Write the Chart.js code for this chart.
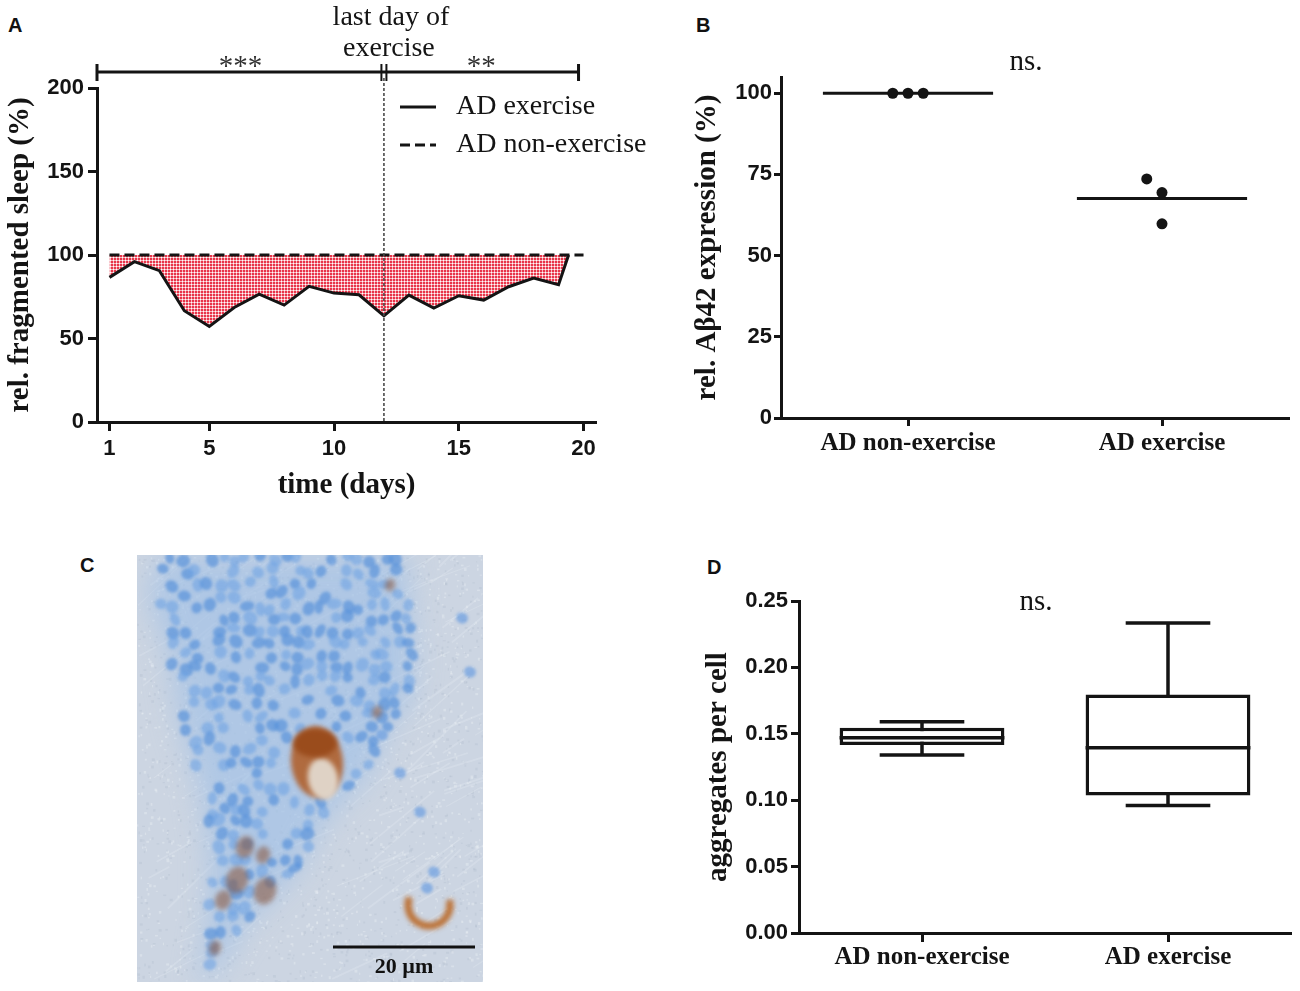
<!DOCTYPE html>
<html>
<head>
<meta charset="utf-8">
<title>Exercise and AD flies</title>
<script src="https://cdn.jsdelivr.net/npm/chart.js@4.4.1/dist/chart.umd.min.js"></script>
<style>
  html, body { margin: 0; padding: 0; background: #fff; }
  body { width: 1300px; height: 991px; position: relative; overflow: hidden; }
  canvas, .letter { position: absolute; }
  .letter { font: bold 20px "Liberation Sans", Arial, sans-serif; color: #111; line-height: 24px; }
</style>
</head>
<body>
<div class="letter" style="left:8px;top:13px">A</div>
<div class="letter" style="left:696px;top:13px">B</div>
<div class="letter" style="left:80px;top:553px">C</div>
<div class="letter" style="left:707px;top:555px">D</div>

<canvas id="chartA" width="650" height="510" style="left:0;top:0"></canvas>
<canvas id="chartB" width="620" height="500" style="left:680px;top:0"></canvas>
<canvas id="photoC" width="346" height="427" style="left:137px;top:555px"></canvas>
<canvas id="chartD" width="620" height="451" style="left:680px;top:540px"></canvas>

<script>
// ---- data -------------------------------------------------------------
// A: relative fragmented sleep per day
const days = [1, 2, 3, 4, 5, 6, 7, 8, 9, 10, 11, 12, 13, 14, 15, 16, 17, 18, 19, 19.4];
const sleepExercise = [86.6, 96, 90.6, 66.6, 57.2, 68.6, 76.6, 70, 81.2, 77.2, 76.2, 63.6, 76, 68.2, 75.6, 73, 81, 86.2, 82.2, 100];
const baselineDays = [1, 20];
const sleepNonExercise = [100, 100];
const dayTicks = [1, 5, 10, 15, 20];
const sleepTicks = [0, 50, 100, 150, 200];
const lastExerciseDay = 12;
const bracketEndDay = 19.8;

// B: rel. Abeta42 expression, single values per group
const groups = ['AD non-exercise', 'AD exercise'];
const abNonExercise = [100, 100, 100];
const abExercise = [73.6, 69.4, 59.8];
const abTicks = [0, 25, 50, 75, 100];

// D: aggregates per cell, box plot summary per group
const aggMin = [0.134, 0.096];
const aggQ1 = [0.1415, 0.1035];
const aggMedian = [0.147, 0.1395];
const aggQ3 = [0.1545, 0.1795];
const aggMax = [0.159, 0.2335];
const aggTicks = [0, 0.05, 0.10, 0.15, 0.20, 0.25];

// ---- shared style -------------------------------------------------------
const ink = '#141414';
const tickFont = { family: 'Liberation Sans', size: 22, weight: 'bold' };
const serifBold = { family: 'Liberation Serif', size: 29, weight: 'bold' };
const catFont = { family: 'Liberation Serif', size: 25, weight: 'bold' };
const serifText = '28px "Liberation Serif"';

function fixedTicks(values) {
    return scale => { scale.ticks = values.map(v => ({ value: v })); };
}

function dotPattern() {
    const tile = document.createElement('canvas');
    tile.width = 3;
    tile.height = 3;
    const c = tile.getContext('2d');
    c.fillStyle = '#f7b6bd';
    c.fillRect(0, 0, 3, 3);
    c.fillStyle = '#e8354a';
    c.fillRect(0, 0, 2, 2);
    c.fillStyle = '#ffffff';
    c.fillRect(2, 2, 1, 1);
    return c.createPattern(tile, 'repeat');
}

// column scatter: equal/close values are pushed sideways, smallest first
function spreadDots(values, center, yTol, step) {
    const placed = [];
    return values.slice().sort((a, b) => a - b).map(v => {
        const k = [0, -1, 1, -2, 2].find(t => !placed.some(p => p.k === t && Math.abs(p.v - v) < yTol));
        placed.push({ v, k });
        return { x: center + k * step, y: v };
    });
}

function mean(arr) {
    return arr.reduce((a, b) => a + b, 0) / arr.length;
}

const noChrome = { legend: { display: false }, tooltip: { enabled: false } };

// ---- A ---------------------------------------------------------------------
const panelAExtras = {
    id: 'panelAExtras',
    afterDatasetsDraw(chart) {
        const { ctx, chartArea, scales: { x } } = chart;
        const xm = x.getPixelForValue(lastExerciseDay);
        ctx.save();
        ctx.strokeStyle = '#4a4a4a';
        ctx.lineWidth = 1.6;
        ctx.setLineDash([3, 2]);
        ctx.beginPath();
        ctx.moveTo(xm, chartArea.top - 10);
        ctx.lineTo(xm, chartArea.bottom);
        ctx.stroke();
        ctx.restore();
    },
    afterDraw(chart) {
        const { ctx, chartArea, scales: { x } } = chart;
        const by = chartArea.top - 16;
        const x0 = chartArea.left;
        const xm = x.getPixelForValue(lastExerciseDay);
        const x1 = x.getPixelForValue(bracketEndDay);
        ctx.save();
        ctx.strokeStyle = ink;
        ctx.lineWidth = 3;
        ctx.beginPath();
        ctx.moveTo(x0, by);
        ctx.lineTo(x1, by);
        [x0, x1].forEach(px => { ctx.moveTo(px, by - 8); ctx.lineTo(px, by + 9); });
        ctx.stroke();
        ctx.lineWidth = 2;
        ctx.beginPath();
        [xm - 2.5, xm + 2.5].forEach(px => { ctx.moveTo(px, by - 8); ctx.lineTo(px, by + 9); });
        ctx.stroke();

        ctx.fillStyle = '#333';
        ctx.textAlign = 'center';
        ctx.textBaseline = 'middle';
        ctx.font = '29px "Liberation Serif"';
        ctx.fillText('***', (x0 + xm) / 2, by - 5);
        ctx.fillText('**', (xm + x1) / 2, by - 5);

        ctx.fillStyle = ink;
        ctx.font = serifText;
        ctx.fillText('last day of', xm + 7, 18);
        ctx.fillText('exercise', xm + 5, 49);

        // legend
        const ds = chart.data.datasets;
        [[ds[0], 107], [ds[1], 145]].forEach(([d, ly]) => {
            ctx.strokeStyle = d.borderColor;
            ctx.lineWidth = d.borderWidth;
            ctx.setLineDash(d.borderDash || []);
            ctx.beginPath();
            ctx.moveTo(400, ly);
            ctx.lineTo(436, ly);
            ctx.stroke();
            ctx.setLineDash([]);
            ctx.textAlign = 'left';
            ctx.fillText(d.label, 456, ly);
        });
        ctx.restore();
    }
};

new Chart(document.getElementById('chartA'), {
    type: 'line',
    data: {
        datasets: [
            {
                label: 'AD exercise',
                data: days.map((d, i) => ({ x: d, y: sleepExercise[i] })),
                borderColor: ink,
                borderWidth: 3,
                pointRadius: 0,
                tension: 0,
                fill: { value: 100 },
                backgroundColor: dotPattern(),
                order: 1
            },
            {
                label: 'AD non-exercise',
                data: baselineDays.map((d, i) => ({ x: d, y: sleepNonExercise[i] })),
                borderColor: ink,
                borderWidth: 3,
                borderDash: [10, 5],
                pointRadius: 0,
                fill: false,
                order: 0
            }
        ]
    },
    options: {
        responsive: false,
        animation: false,
        layout: { padding: { top: 88, right: 54, left: 0, bottom: 0 } },
        plugins: noChrome,
        scales: {
            x: {
                type: 'linear',
                min: 0.5,
                max: 20.5,
                afterBuildTicks: fixedTicks(dayTicks),
                afterFit: s => { s.height = 88; },
                border: { color: ink, width: 3 },
                grid: { drawOnChartArea: false, tickLength: 9, tickWidth: 3, tickColor: ink },
                ticks: { font: tickFont, color: ink, padding: 5, autoSkip: false, maxRotation: 0 },
                title: { display: true, text: 'time (days)', font: serifBold, color: ink, padding: { top: 0, bottom: 7 } }
            },
            y: {
                min: 0,
                max: 200,
                afterBuildTicks: fixedTicks(sleepTicks),
                afterFit: s => { s.width = 97; },
                border: { color: ink, width: 3 },
                grid: { drawOnChartArea: false, tickLength: 9, tickWidth: 3, tickColor: ink },
                ticks: { font: tickFont, color: ink, padding: 4, autoSkip: false },
                title: { display: true, text: 'rel. fragmented sleep (%)', font: serifBold, color: ink, padding: { top: 3, bottom: 0 } }
            }
        }
    },
    plugins: [panelAExtras]
});

// ---- B and D helpers ---------------------------------------------------------
function nsLabel(id, yPx) {
    return {
        id: id,
        afterDraw(chart) {
            const { ctx, scales: { x } } = chart;
            ctx.save();
            ctx.fillStyle = ink;
            ctx.font = '29px "Liberation Serif"';
            ctx.textAlign = 'center';
            ctx.textBaseline = 'middle';
            ctx.fillText('ns.', x.getPixelForValue(1) - 9, yPx);
            ctx.restore();
        }
    };
}

function groupAxis(height, tickLength, padding) {
    return {
        type: 'linear',
        min: 0,
        max: groups.length,
        offset: false,
        afterBuildTicks: fixedTicks(groups.map((g, i) => i + 0.5)),
        afterFit: s => { s.height = height; },
        border: { color: ink, width: 3 },
        grid: { drawOnChartArea: false, offset: false, tickLength: tickLength, tickWidth: 3, tickColor: ink },
        ticks: { font: catFont, color: ink, padding: padding, autoSkip: false, maxRotation: 0,
                 callback: (v, i) => groups[i] }
    };
}

// ---- B ---------------------------------------------------------------------
const halfWidth = 0.335;
const abMeans = [mean(abNonExercise), mean(abExercise)];
const meanSegments = [];
abMeans.forEach((m, i) => {
    meanSegments.push({ x: i + 0.5 - halfWidth, y: m }, { x: i + 0.5 + halfWidth, y: m }, { x: i + 0.5, y: null });
});

new Chart(document.getElementById('chartB'), {
    type: 'scatter',
    data: {
        datasets: [
            { data: spreadDots(abNonExercise, 0.5, 5, 0.06), pointRadius: 5.5, pointBackgroundColor: ink, pointBorderWidth: 0 },
            { data: spreadDots(abExercise, 1.5, 5, 0.06), pointRadius: 5.5, pointBackgroundColor: ink, pointBorderWidth: 0 },
            { data: meanSegments, showLine: true, spanGaps: false, borderColor: ink, borderWidth: 3, pointRadius: 0 }
        ]
    },
    options: {
        responsive: false,
        animation: false,
        layout: { padding: { top: 77, right: 11, left: 0, bottom: 0 } },
        plugins: noChrome,
        scales: {
            x: groupAxis(82, 8, 3),
            y: {
                min: 0,
                max: 105,
                afterBuildTicks: fixedTicks(abTicks),
                afterFit: s => { s.width = 101; },
                border: { color: ink, width: 3 },
                grid: { drawOnChartArea: false, tickLength: 7, tickWidth: 3, tickColor: ink },
                ticks: { font: tickFont, color: ink, padding: 2, autoSkip: false },
                title: { display: true, text: 'rel. Aβ42 expression (%)', font: serifBold, color: ink, padding: { top: 10, bottom: 0 } }
            }
        }
    },
    plugins: [nsLabel('nsB', 62)]
});

// ---- D ---------------------------------------------------------------------
const capHalf = 0.172;
const whiskers = [];
const medians = [];
groups.forEach((g, i) => {
    const c = i + 0.5;
    whiskers.push(
        { x: c, y: aggMax[i] }, { x: c, y: aggMin[i] }, { x: c, y: null },
        { x: c - capHalf, y: aggMax[i] }, { x: c + capHalf, y: aggMax[i] }, { x: c, y: null },
        { x: c - capHalf, y: aggMin[i] }, { x: c + capHalf, y: aggMin[i] }, { x: c, y: null }
    );
    medians.push({ x: c - halfWidth, y: aggMedian[i] }, { x: c + halfWidth, y: aggMedian[i] }, { x: c, y: null });
});

new Chart(document.getElementById('chartD'), {
    type: 'bar',
    data: {
        datasets: [
            {
                type: 'line', data: whiskers, spanGaps: false, borderColor: ink, borderWidth: 3.5,
                pointRadius: 0, fill: false, order: 3
            },
            {
                type: 'bar',
                data: groups.map((g, i) => ({ x: i + 0.5, y: [aggQ1[i], aggQ3[i]] })),
                backgroundColor: '#ffffff',
                borderColor: ink,
                borderWidth: 3.5,
                borderSkipped: false,
                categoryPercentage: 0.67,
                barPercentage: 1,
                order: 2
            },
            {
                type: 'line', data: medians, spanGaps: false, borderColor: ink, borderWidth: 3.5,
                pointRadius: 0, fill: false, order: 1
            }
        ]
    },
    options: {
        responsive: false,
        animation: false,
        layout: { padding: { top: 61, right: 9, left: 0, bottom: 0 } },
        plugins: noChrome,
        scales: {
            x: groupAxis(58, 9, 1),
            y: {
                min: 0,
                max: 0.25,
                afterBuildTicks: fixedTicks(aggTicks),
                afterFit: s => { s.width = 119; },
                border: { color: ink, width: 3 },
                grid: { drawOnChartArea: false, tickLength: 8, tickWidth: 3, tickColor: ink },
                ticks: { font: tickFont, color: ink, padding: 3, autoSkip: false, callback: v => v.toFixed(2) },
                title: { display: true, text: 'aggregates per cell', font: serifBold, color: ink, padding: { top: 21, bottom: 0 } }
            }
        }
    },
    plugins: [nsLabel('nsD', 62)]
});

// ---- C: stained section (decorative picture, not data) ---------------------------
function paintSection(canvas) {
    const ctx = canvas.getContext('2d');
    const W = canvas.width, H = canvas.height;
    let seed = 20;
    const rnd = () => { seed = (seed * 16807) % 2147483647; return (seed - 1) / 2147483646; };

    ctx.fillStyle = '#ccd5e2';
    ctx.fillRect(0, 0, W, H);

    // grainy tissue background
    for (let i = 0; i < 3000; i++) {
        const x = rnd() * W, y = rnd() * H;
        ctx.fillStyle = rnd() < 0.55 ? 'rgba(236,240,246,0.4)' : 'rgba(165,176,196,0.22)';
        ctx.fillRect(x, y, 1 + rnd() * 2, 1 + rnd() * 2);
    }
    for (let i = 0; i < 120; i++) {
        const x = rnd() * W, y = rnd() * H, a = -0.8 + rnd() * 0.5, len = 20 + rnd() * 70;
        ctx.strokeStyle = 'rgba(228,234,242,0.3)';
        ctx.lineWidth = 1 + rnd();
        ctx.beginPath();
        ctx.moveTo(x, y);
        ctx.lineTo(x + Math.cos(a) * len, y + Math.sin(a) * len);
        ctx.stroke();
    }

    // dense cell layer
    const wedge = new Path2D();
    [[25, 0], [268, 0], [278, 100], [272, 150], [253, 167], [233, 217], [187, 267], [160, 317],
     [110, 367], [90, 400], [70, 427], [62, 427], [72, 367], [73, 300], [63, 233], [43, 167], [33, 100], [10, 40]]
        .forEach((p, i) => i ? wedge.lineTo(p[0], p[1]) : wedge.moveTo(p[0], p[1]));
    wedge.closePath();
    ctx.save();
    ctx.filter = 'blur(14px)';
    ctx.fillStyle = 'rgba(160,192,230,0.65)';
    ctx.fill(wedge);
    ctx.restore();

    // nuclei packed on a jittered lattice
    ctx.save();
    ctx.filter = 'blur(1.8px)';
    for (let gy = 4; gy < H; gy += 12) {
        for (let gx = 4 + (gy % 24 ? 6 : 0); gx < W; gx += 12.5) {
            const x = gx + (rnd() - 0.5) * 7, y = gy + (rnd() - 0.5) * 7;
            if (!ctx.isPointInPath(wedge, x, y) || rnd() < 0.3) continue;
            if (Math.hypot(x - 181, y - 208) < 38) continue;
            ctx.fillStyle = rnd() < 0.5 ? 'rgba(86,144,218,0.68)' : 'rgba(108,162,228,0.58)';
            ctx.beginPath();
            ctx.ellipse(x, y, 5 + rnd() * 2.5, 4.5 + rnd() * 2, rnd() * 3.14, 0, Math.PI * 2);
            ctx.fill();
        }
    }
    [[333, 117], [325, 63], [283, 257], [297, 317], [290, 333], [263, 218], [245, 180]].forEach(([x, y]) => {
        ctx.fillStyle = 'rgba(100,154,224,0.65)';
        ctx.beginPath();
        ctx.ellipse(x, y, 6, 5.5, 0.4, 0, Math.PI * 2);
        ctx.fill();
    });
    ctx.restore();

    // brown aggregates
    ctx.save();
    ctx.filter = 'blur(2.5px)';
    ctx.fillStyle = 'rgba(176,96,44,0.9)';
    ctx.beginPath();
    ctx.ellipse(180, 207, 26, 36, -0.1, 0, Math.PI * 2);
    ctx.fill();
    ctx.fillStyle = 'rgba(226,216,204,0.95)';
    ctx.beginPath();
    ctx.ellipse(186, 224, 15, 21, -0.2, 0, Math.PI * 2);
    ctx.fill();
    ctx.fillStyle = 'rgba(150,70,22,0.85)';
    ctx.beginPath();
    ctx.ellipse(178, 188, 22, 14, 0, 0, Math.PI * 2);
    ctx.fill();

    ctx.strokeStyle = 'rgba(186,104,38,0.95)';
    ctx.lineWidth = 7;
    ctx.beginPath();
    ctx.arc(292, 350, 21, -0.08 * Math.PI, 1.12 * Math.PI);
    ctx.stroke();

    ctx.fillStyle = 'rgba(140,96,74,0.62)';
    [[108, 292, 9], [100, 325, 11], [128, 336, 11], [86, 345, 8], [126, 300, 7], [78, 393, 6], [240, 157, 5], [253, 30, 5]]
        .forEach(([x, y, r]) => {
            ctx.beginPath();
            ctx.ellipse(x, y, r, r * 1.25, 0.3, 0, Math.PI * 2);
            ctx.fill();
        });
    ctx.restore();

    // scale bar
    ctx.strokeStyle = '#111';
    ctx.lineWidth = 3;
    ctx.beginPath();
    ctx.moveTo(196, 392);
    ctx.lineTo(338, 392);
    ctx.stroke();
    ctx.fillStyle = '#111';
    ctx.font = 'bold 22px "Liberation Serif"';
    ctx.textAlign = 'center';
    ctx.textBaseline = 'middle';
    ctx.fillText('20 µm', 267, 412);
}

paintSection(document.getElementById('photoC'));
</script>
</body>
</html>
